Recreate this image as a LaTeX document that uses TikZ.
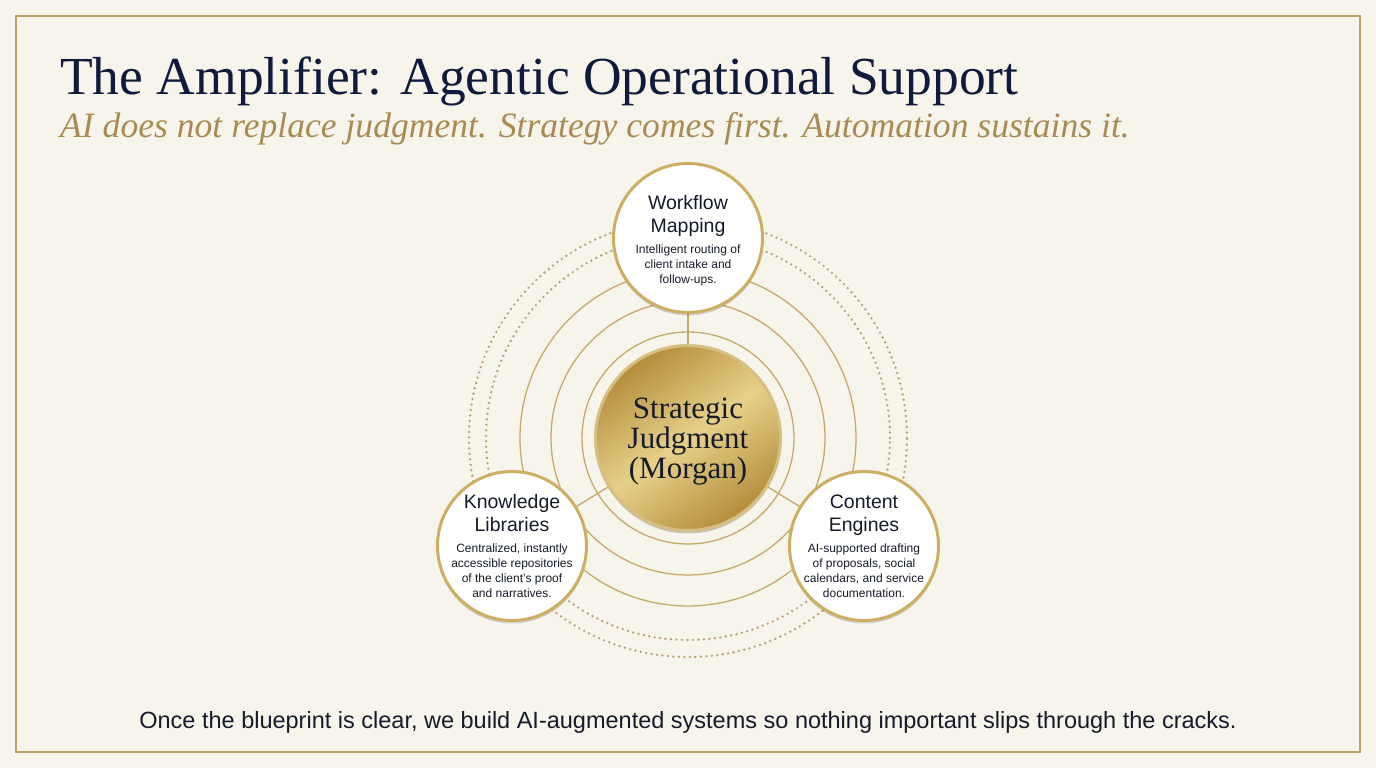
\documentclass[tikz,border=0pt]{standalone}
\usepackage{fontspec}
\setmainfont{Liberation Serif}
\setsansfont{Liberation Sans}
\usepackage{tikz}
\usetikzlibrary{positioning, calc, backgrounds, shadows}

\definecolor{paper}{HTML}{F7F4EC}
\definecolor{framegold}{HTML}{BCA26A}
\definecolor{navy}{HTML}{0F1A3C}
\definecolor{subgold}{HTML}{A98B52}
\definecolor{ringgold}{HTML}{C6AA6A}
\definecolor{dotgold}{HTML}{B9A072}
\definecolor{rimgold}{HTML}{CDAE62}
\definecolor{inkdark}{HTML}{161B2A}
\definecolor{hublight}{HTML}{E8D08A}
\definecolor{hubdark}{HTML}{B48D3C}

\tikzset{
  ring/.style={draw=ringgold, line width=1.3pt},
  dotring/.style={draw=dotgold, line width=2.6pt, line cap=round, dash pattern=on 0pt off 5.5pt},
  spoke/.style={draw=ringgold, line width=1.3pt},
  satellite/.style={circle, minimum size=149pt, inner sep=0pt, fill=white, draw=rimgold, line width=3pt,
    drop shadow={shadow xshift=0pt, shadow yshift=-3pt, opacity=0.15, fill=black}},
  hubdisc/.style={circle, minimum size=185pt, inner sep=0pt, draw=rimgold!80!white, line width=3pt,
    top color=hubdark, bottom color=hubdark, middle color=hublight, shading angle=35,
    drop shadow={shadow xshift=0pt, shadow yshift=-3pt, opacity=0.2, fill=black}},
  sattext/.style={text width=146pt, align=center, font=\sffamily, text=inkdark, inner sep=0pt},
}

\newcommand{\satlabel}[2]{{\fontsize{19.5}{23}\selectfont #1\par}\vspace{6pt}{\fontsize{12}{15}\selectfont #2\par}}

\begin{document}
\begin{tikzpicture}[x=1pt, y=1pt]
    \useasboundingbox (0,0) rectangle (1376,768);

    % =========================================================================
    % HEADER
    % =========================================================================
    \node[anchor=base west, inner sep=0pt, text=navy, font=\fontsize{53.5}{60}\selectfont] (title) at (60,673)
        {The Amplifier: Agentic Operational Support};
    \node[anchor=base west, inner sep=0pt, text=subgold, font=\itshape\fontsize{35.6}{40}\selectfont] (subtitle) at (60,630)
        {AI does not replace judgment. Strategy comes first. Automation sustains it.};

    % =========================================================================
    % HUB AND SATELLITES
    % =========================================================================
    \node[hubdisc] (hub) at (688,330) {};
    \node[text=inkdark, align=center, font=\fontsize{31}{30}\selectfont] (hubtxt) at ([yshift=-4pt]hub.center)
        {Strategic\\Judgment\\(Morgan)};

    \node[satellite] (flow) at (688,530) {};
    \node[sattext] (flowtxt) at ([yshift=-3pt]flow.center)
        {\satlabel{Workflow\\Mapping}{Intelligent routing of\\client intake and\\follow-ups.}};

    \node[satellite] (know) at (512,222) {};
    \node[sattext] (knowtxt) at (know.center)
        {\satlabel{Knowledge\\Libraries}{Centralized, instantly\\accessible repositories\\of the client’s proof\\and narratives.}};

    \node[satellite] (content) at (864,222) {};
    \node[sattext] (contenttxt) at (content.center)
        {\satlabel{Content\\Engines}{AI-supported drafting\\of proposals, social\\calendars, and service\\documentation.}};

    % =========================================================================
    % FOOTER
    % =========================================================================
    \node[anchor=base, inner sep=0pt, text=inkdark, font=\sffamily\fontsize{23.5}{26}\selectfont] (closing) at (688,39)
        {Once the blueprint is clear, we build AI-augmented systems so nothing important slips through the cracks.};

    % =========================================================================
    % BACKGROUND: paper, frame, rings, spokes
    % =========================================================================
    \begin{pgfonlayer}{background}
        \fill[paper] (0,0) rectangle (1376,768);
        \draw[framegold, line width=1.6pt] (16,16) rectangle (1360,752);

        % Orbit rings
        \foreach \r in {106,137,168}
            \draw[ring] (hub.center) circle[radius=\r];
        \foreach \r in {202,219}
            \draw[dotring] (hub.center) circle[radius=\r];

        % Spokes
        \draw[spoke] (hub) -- (flow);
        \draw[spoke] (hub) -- (know);
        \draw[spoke] (hub) -- (content);
    \end{pgfonlayer}

\end{tikzpicture}
\end{document}
